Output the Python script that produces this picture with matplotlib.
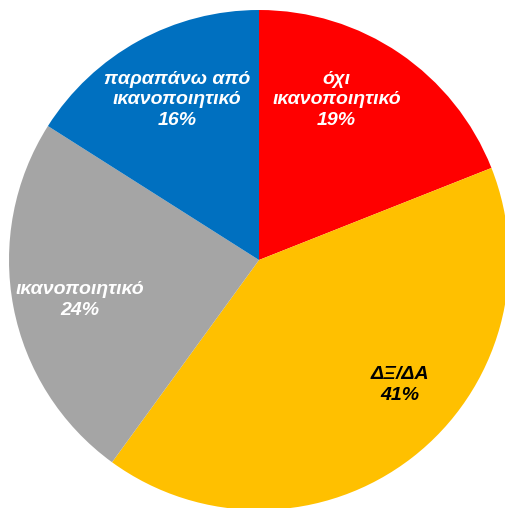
import matplotlib
matplotlib.use('Agg')
from matplotlib import pyplot as plt

# Data
categories = ['όχι\nικανοποιητικό', 'ΔΞ/ΔΑ', 'ικανοποιητικό', 'παραπάνω από\nικανοποιητικό']
shares = [19, 41, 24, 16]
colors = ['#FF0000', '#FFC000', '#A5A5A5', '#0070C0']
text_colors = ['white', 'black', 'white', 'white']

# label positions (in pie radius units)
label_pos = [(0.31, 0.64), (0.564, -0.50), (-0.716, -0.16), (-0.328, 0.64)]

fig = plt.figure(figsize=(5.06, 5.08), dpi=100)
ax = fig.add_axes([0, 0, 1, 1])
ax.pie(shares, colors=colors, startangle=90, counterclock=False,
       radius=1.0, center=(0, 0), wedgeprops={'linewidth': 0})

for cat, val, pos, tc in zip(categories, shares, label_pos, text_colors):
    ax.text(pos[0], pos[1], f'{cat}\n{val}%', ha='center', va='center',
            color=tc, fontsize=14, fontweight='bold', fontstyle='italic',
            family=['Liberation Sans', 'DejaVu Sans'], linespacing=1.3)

ax.set_xlim(-1.036, 0.988)
ax.set_ylim(-0.992, 1.04)
ax.set_aspect('auto')
ax.axis('off')

fig.savefig('out.png', dpi=100, facecolor='white')
